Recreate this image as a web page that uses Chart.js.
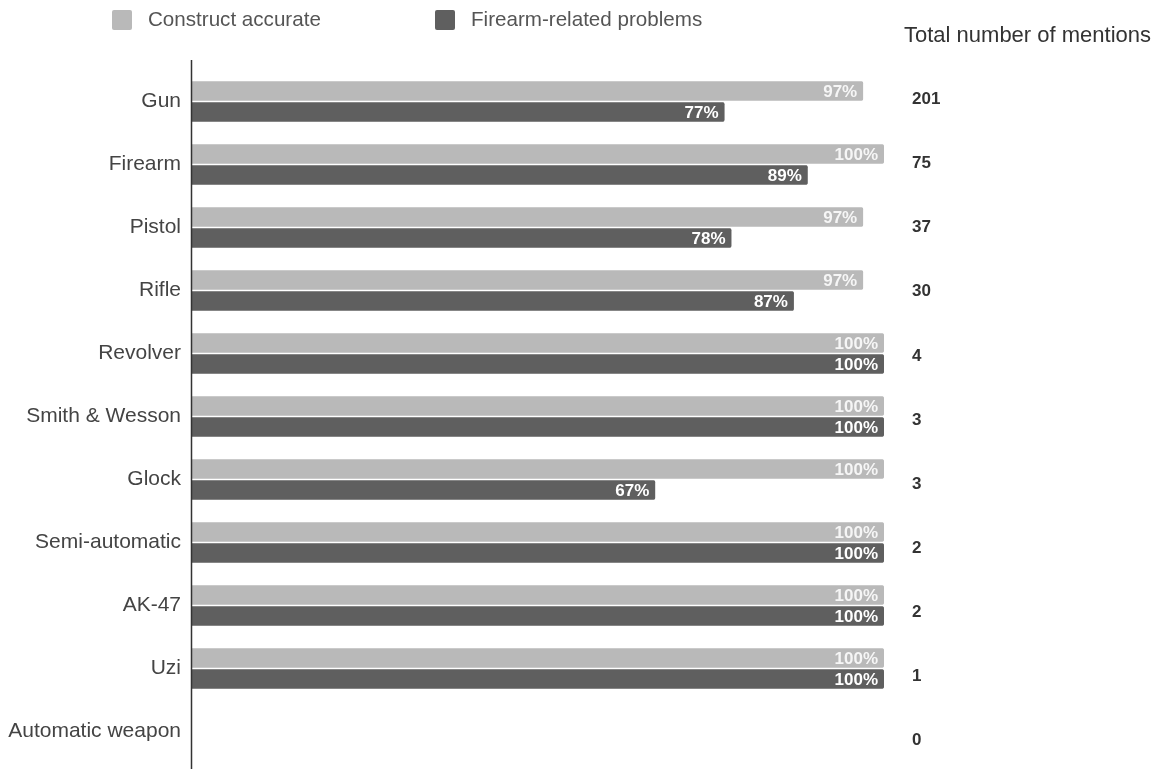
<!DOCTYPE html>
<html>
<head>
<meta charset="utf-8">
<script src="https://cdn.jsdelivr.net/npm/chart.js@4/dist/chart.umd.min.js"></script>
<style>
  html, body { margin: 0; padding: 0; background: #fff; }
  #wrap { width: 1166px; height: 769px; position: relative; }
</style>
</head>
<body>
<div id="wrap"><canvas id="myChart" width="1166" height="769"></canvas></div>
<script>
// Chart data
let categories = ["Gun", "Firearm", "Pistol", "Rifle", "Revolver", "Smith & Wesson", "Glock", "Semi-automatic", "AK-47", "Uzi", "Automatic weapon"];
let constructAccurate = [97, 100, 97, 97, 100, 100, 100, 100, 100, 100, null];
let firearmProblems = [77, 89, 78, 87, 100, 100, 67, 100, 100, 100, null];
let totalMentions = [201, 75, 37, 30, 4, 3, 3, 2, 2, 1, 0];
let seriesNames = ["Construct accurate", "Firearm-related problems"];
let seriesColors = ["#b9b9b9", "#5f5f5f"];

let fontFamily = "'Liberation Sans', Arial, sans-serif";

// Draws legend, right column and bar value labels
let extrasPlugin = {
    id: "extras",
    afterDatasetsDraw: (chart) => {
        let ctx = chart.ctx;
        ctx.save();

        // value labels inside the bar ends
        ctx.font = "bold 17px " + fontFamily;
        ctx.textAlign = "right";
        ctx.textBaseline = "middle";
        chart.data.datasets.forEach((ds, di) => {
            let meta = chart.getDatasetMeta(di);
            meta.data.forEach((bar, i) => {
                if (ds.data[i] == null) return;
                ctx.fillStyle = di === 0 ? "#f6f6f6" : "#ffffff";
                ctx.fillText(ds.data[i] + "%", bar.x - 6, bar.y + 1);
            });
        });

        // axis line
        let left = chart.chartArea.left;
        ctx.strokeStyle = "#333";
        ctx.lineWidth = 1.5;
        ctx.beginPath();
        ctx.moveTo(left + 0.5, 60);
        ctx.lineTo(left + 0.5, 769);
        ctx.stroke();

        // legend
        let legendX = [112, 435];
        ctx.font = "20.6px " + fontFamily;
        ctx.textAlign = "left";
        seriesNames.forEach((name, i) => {
            ctx.fillStyle = seriesColors[i];
            ctx.beginPath();
            ctx.roundRect(legendX[i], 10, 20, 20, 2);
            ctx.fill();
            ctx.fillStyle = "#555";
            ctx.fillText(name, legendX[i] + 36, 20);
        });

        // right column (its rows are spaced slightly wider than the bars)
        ctx.fillStyle = "#333";
        ctx.font = "22px " + fontFamily;
        ctx.fillText("Total number of mentions", 904, 36);
        ctx.font = "bold 17px " + fontFamily;
        let firstY = chart.scales.y.getPixelForValue(0) - 2;
        let rowStep = 64.1;
        totalMentions.forEach((n, i) => {
            ctx.fillText(String(n), 912, firstY + i * rowStep);
        });

        ctx.restore();
    }
};

let makeDataset = (label, data, color) => ({
    label: label,
    data: data,
    backgroundColor: color,
    borderColor: "#ffffff",
    borderWidth: { top: 1, bottom: 1, left: 0, right: 0 },
    borderSkipped: "start",
    borderRadius: 3,
    barThickness: 21
});

const ctx = document.getElementById("myChart").getContext("2d");
let myChart = new Chart(ctx, {
    type: "bar",
    data: {
        labels: categories,
        datasets: [
            makeDataset(seriesNames[0], constructAccurate, seriesColors[0]),
            makeDataset(seriesNames[1], firearmProblems, seriesColors[1])
        ]
    },
    options: {
        indexAxis: "y",
        responsive: false,
        animation: false,
        layout: { padding: { left: 0, right: 282, top: 70, bottom: 6 } },
        plugins: {
            legend: { display: false },
            tooltip: { enabled: false }
        },
        scales: {
            x: {
                min: 0,
                max: 100,
                display: false
            },
            y: {
                grid: { display: false, drawTicks: false },
                border: { display: false },
                ticks: {
                    padding: 10,
                    color: "#444",
                    font: { size: 21, family: fontFamily }
                },
                afterFit: (scale) => {
                    scale.width = 191;
                    scale.paddingTop = 0;
                    scale.paddingBottom = 0;
                }
            }
        }
    },
    plugins: [extrasPlugin]
});
</script>
</body>
</html>
